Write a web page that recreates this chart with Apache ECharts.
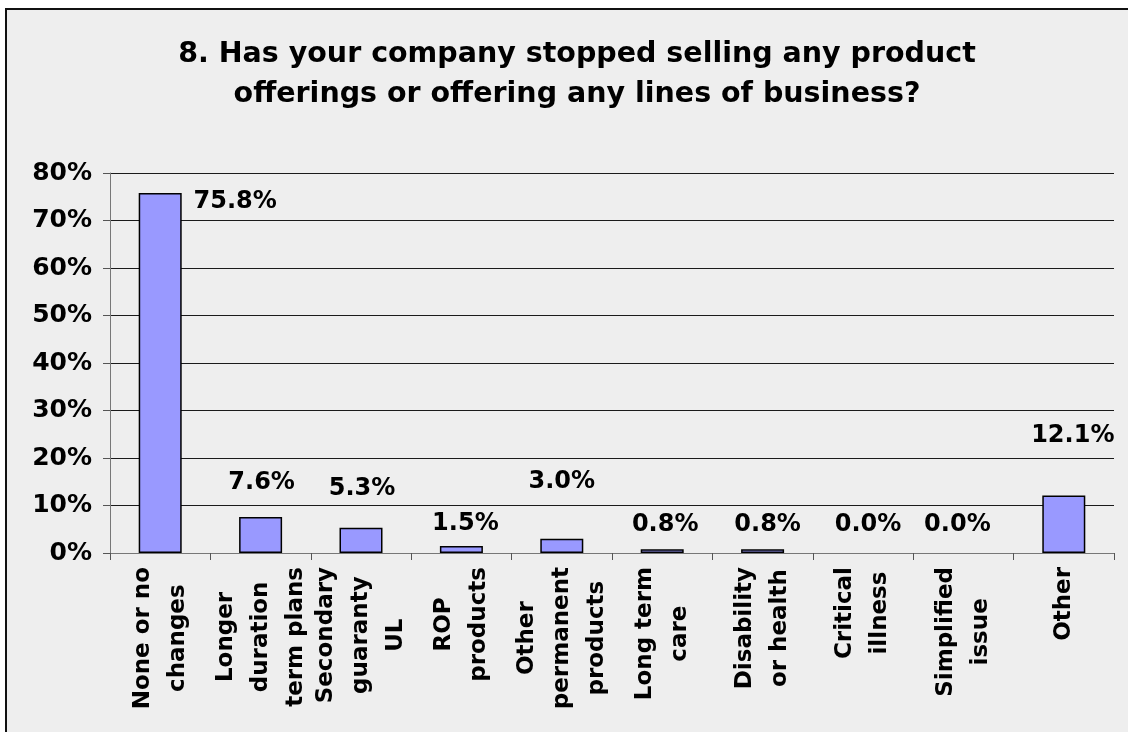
<!DOCTYPE html>
<html>
<head>
<meta charset="utf-8">
<script src="https://cdn.jsdelivr.net/npm/echarts@6/dist/echarts.min.js"></script>
<style>
  html, body { margin: 0; padding: 0; background: #ffffff; overflow: hidden; width: 1128px; height: 732px; }
  #frame {
    position: absolute; left: 5px; top: 8px; width: 1200px; height: 800px;
    background: #eeeeee; border-left: 2px solid #111; border-top: 2px solid #111;
  }
  #chart { position: absolute; left: 0; top: 0; width: 1128px; height: 732px; }
</style>
</head>
<body>
<div id="frame"></div>
<div id="chart"></div>
<script>
// Survey question 8: share of companies that stopped selling each line (%)
const categories = [
  'None or no\nchanges',
  'Longer\nduration\nterm plans',
  'Secondary\nguaranty\nUL',
  'ROP\nproducts',
  'Other\npermanent\nproducts',
  'Long term\ncare',
  'Disability\nor health',
  'Critical\nillness',
  'Simplified\nissue',
  'Other'
];
const shares = [75.8, 7.6, 5.3, 1.5, 3.0, 0.8, 0.8, 0.0, 0.0, 12.1];
const yTickMin = 0;
const yTickMax = 80;
const yTickStep = 10;

// Hand-placed value labels: [dx, dy] nudges from the bar top
const labelNudge = [[75, 9], [1, -34], [1, -39], [4, -22], [0, -57], [3, -24], [5, -24], [5, -28], [-6, -28], [9, -60]];

const FONT = '"DejaVu Sans", Verdana, sans-serif';

const chart = echarts.init(document.getElementById('chart'), null, { renderer: 'canvas' });

const barData = shares.map((v, i) => ({
  value: v,
  // empty bars leave no outline on the axis
  itemStyle: v === 0 ? { borderWidth: 0 } : undefined,
  label: { offset: labelNudge[i] }
}));

chart.setOption({
  animation: false,
  backgroundColor: 'transparent',
  title: {
    text: '8. Has your company stopped selling any product\nofferings or offering any lines of business?',
    left: 572,
    top: 30,
    textAlign: 'center',
    textStyle: {
      fontFamily: FONT, fontWeight: 'bold', fontSize: 28.5, lineHeight: 40, color: '#000'
    }
  },
  grid: { left: 110, right: 14, top: 173, bottom: 179, containLabel: false },
  xAxis: {
    type: 'category',
    data: categories,
    axisLine: { lineStyle: { color: '#777', width: 1 } },
    axisTick: { show: true, length: 7, lineStyle: { color: '#555' } },
    axisLabel: {
      interval: 0,
      rotate: 90,
      margin: 14,
      formatter: (v) => v.split('\n').map(s => '{c|' + s + '}').join('\n'),
      rich: {
        c: { align: 'center', fontFamily: FONT, fontWeight: 'bold', fontSize: 23, lineHeight: 35, color: '#000' }
      }
    }
  },
  yAxis: {
    type: 'value',
    min: yTickMin,
    max: yTickMax,
    interval: yTickStep,
    axisLine: { show: true, lineStyle: { color: '#777', width: 1 } },
    axisTick: { show: true, length: 7, lineStyle: { color: '#555' } },
    splitLine: { show: true, lineStyle: { color: '#1a1a1a', width: 1 } },
    axisLabel: {
      margin: 18,
      formatter: '{value}%',
      fontFamily: FONT, fontWeight: 'bold', fontSize: 25, color: '#000'
    }
  },
  series: [{
    type: 'bar',
    data: barData,
    barWidth: 43,
    itemStyle: { color: '#9999ff', borderColor: '#000', borderWidth: 1.5 },
    label: {
      show: true,
      position: 'top',
      distance: 0,
      align: 'center',
      verticalAlign: 'middle',
      formatter: (p) => p.value.toFixed(1) + '%',
      fontFamily: FONT, fontWeight: 'bold', fontSize: 24, color: '#000'
    }
  }]
});
</script>
</body>
</html>
